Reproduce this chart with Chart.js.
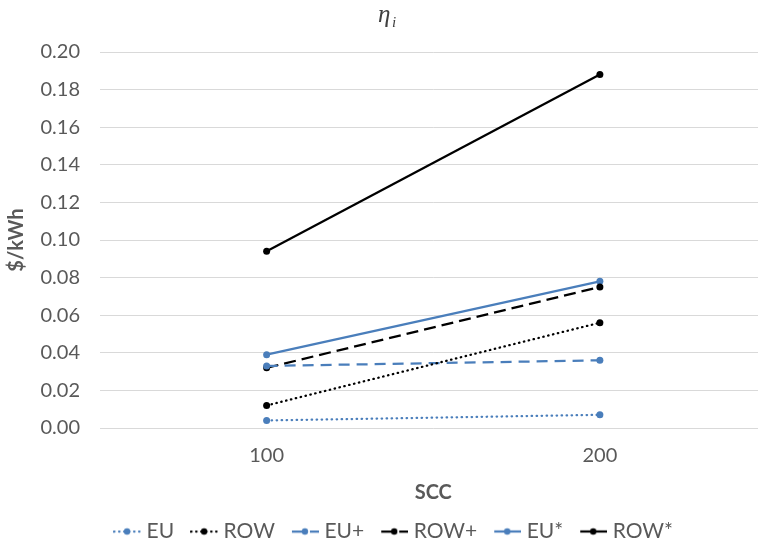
<!DOCTYPE html>
<html>
<head>
<meta charset="utf-8">
<script src="https://cdn.jsdelivr.net/npm/chart.js@4"></script>
<style>
  html, body { margin: 0; padding: 0; background: #fff; overflow: hidden; }
  #wrap { width: 758px; height: 545px; overflow: hidden; position: relative; }
  #box { width: 770px; height: 545px; position: absolute; left: 0; top: 0; }
</style>
</head>
<body>
<div id="wrap"><div id="box"><canvas id="chart"></canvas></div></div>
<script>
// values
const categories = ['100', '200'];
const eu = [0.004, 0.007];
const row = [0.012, 0.056];
const euPlus = [0.033, 0.036];
const rowPlus = [0.032, 0.075];
const euStar = [0.039, 0.078];
const rowStar = [0.094, 0.188];

const BLUE = '#4a7ebb';
const BLACK = '#000000';
const GREY = '#595959';
const FONT = 'Lato, "Open Sans", sans-serif';

// small line+dot swatch for the legend
function swatch(color, dash) {
  const c = document.createElement('canvas');
  c.width = 28; c.height = 10;
  const ctx = c.getContext('2d');
  ctx.strokeStyle = color;
  ctx.lineWidth = 2.25;
  ctx.lineCap = dash.length && dash[0] < 2 ? 'round' : 'butt';
  ctx.setLineDash(dash);
  ctx.beginPath();
  ctx.moveTo(1, 5); ctx.lineTo(28, 5);
  ctx.stroke();
  ctx.setLineDash([]);
  ctx.fillStyle = color;
  ctx.beginPath();
  ctx.arc(14, 5, 3.2, 0, Math.PI * 2);
  ctx.fill();
  return c;
}

function series(label, data, color, dash) {
  return {
    label: label,
    data: data,
    borderColor: color,
    backgroundColor: color,
    borderWidth: 2.25,
    borderDash: dash,
    borderCapStyle: dash.length && dash[0] < 2 ? 'round' : 'butt',
    pointRadius: 3.5,
    pointHoverRadius: 3.5,
    pointBorderWidth: 0,
    pointStyle: 'circle',
    legendSwatch: swatch(color, dash),
    tension: 0,
    fill: false
  };
}

const dotted = [0.5, 4.5];
const dashEU = [11, 7];
const dashROW = [12, 6];

const datasets = [
  series('EU', eu, BLUE, dotted),
  series('ROW', row, BLACK, dotted),
  series('EU+', euPlus, BLUE, dashEU),
  series('ROW+', rowPlus, BLACK, dashROW),
  series('EU*', euStar, BLUE, []),
  series('ROW*', rowStar, BLACK, [])
];

// eta with subscript i
const titlePlugin = {
  id: 'etaTitle',
  afterDraw(chart) {
    const ctx = chart.ctx;
    ctx.save();
    ctx.fillStyle = '#404040';
    ctx.textBaseline = 'alphabetic';
    ctx.font = 'italic 25px "Liberation Serif", "DejaVu Serif", serif';
    ctx.fillText('η', 378, 22);
    ctx.font = 'italic 15px "Liberation Serif", "DejaVu Serif", serif';
    ctx.fillText('i', 392, 27);
    ctx.restore();
  }
};

new Chart(document.getElementById('chart'), {
  type: 'line',
  data: { labels: categories, datasets: datasets },
  plugins: [titlePlugin],
  options: {
    responsive: true,
    maintainAspectRatio: false,
    animation: false,
    layout: { padding: { top: 52, right: 3, left: 24, bottom: 0 } },
    plugins: {
      title: { display: false },
      tooltip: { enabled: false },
      legend: {
        position: 'bottom',
        maxHeight: 45,
        labels: {
          usePointStyle: true,
          pointStyleWidth: 18,
          color: GREY,
          font: { family: FONT, size: 21 },
          padding: 21,
          generateLabels(chart) {
            return chart.data.datasets.map((d, i) => ({
              text: d.label,
              pointStyle: d.legendSwatch,
              fillStyle: d.borderColor,
              strokeStyle: d.borderColor,
              lineWidth: 0,
              hidden: false,
              datasetIndex: i,
              fontColor: GREY
            }));
          }
        }
      }
    },
    scales: {
      x: {
        offset: true,
        grid: { display: false },
        border: { display: false },
        ticks: { color: GREY, font: { family: FONT, size: 20 }, padding: 8 },
        title: {
          display: true, text: 'SCC', color: GREY,
          font: { family: FONT, size: 20, weight: 'bold' },
          padding: { top: 0, bottom: -5 }
        },
        afterFit(scale) { scale.height = 72; }
      },
      y: {
        min: 0,
        max: 0.2,
        grid: { color: '#d9d9d9', lineWidth: 1, drawTicks: false },
        border: { display: false },
        ticks: {
          stepSize: 0.02,
          color: GREY,
          font: { family: FONT, size: 20 },
          padding: 20,
          callback: v => v.toFixed(2)
        },
        title: {
          display: true, text: '$/kWh', color: GREY,
          font: { family: FONT, size: 20, weight: 'bold' },
          padding: { top: -19, bottom: 0 }
        },
        afterFit(scale) { scale.width = 76; }
      }
    }
  }
});
</script>
</body>
</html>
